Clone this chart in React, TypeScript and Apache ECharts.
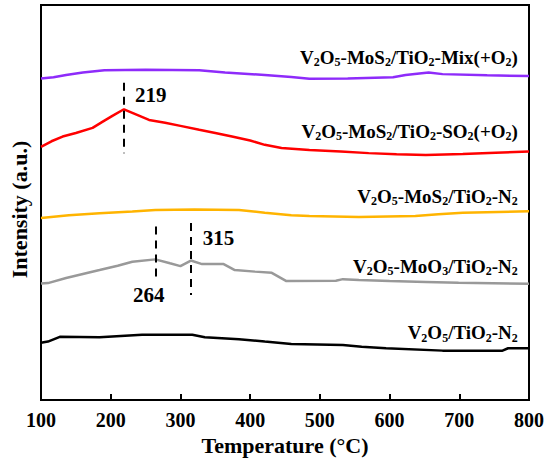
import React, { useEffect, useRef } from "react";
import * as echarts from "echarts";

// ---- data (temperature in °C, intensity in arbitrary stacked units) ----
const mixT = [100, 118, 136, 160, 191, 250, 327, 364, 421, 459, 485, 540, 605, 623, 656, 676, 740, 800];
const mixY = [81.4, 81.7, 82.3, 82.9, 83.5, 83.6, 83.5, 82.9, 82.3, 81.8, 81.3, 81.4, 81.7, 82.3, 82.9, 82.5, 82.2, 82.0];

const so2T = [100, 115, 131, 150, 174, 188, 203, 219, 231, 255, 278, 300, 327, 350, 374, 400, 421, 445, 485, 530, 570, 610, 652, 705, 752, 800];
const so2Y = [64.1, 65.5, 66.7, 67.6, 68.9, 70.4, 72.0, 73.6, 72.7, 70.9, 70.2, 69.4, 68.4, 67.6, 66.7, 65.7, 64.6, 63.8, 63.3, 62.9, 62.5, 62.2, 62.0, 62.3, 62.6, 62.9];

const mosN2T = [100, 140, 184, 231, 264, 320, 384, 421, 459, 485, 556, 637, 670, 705, 800];
const mosN2Y = [46.1, 46.8, 47.3, 47.7, 48.1, 48.2, 48.1, 47.4, 46.8, 46.6, 46.3, 46.6, 47.0, 47.4, 47.8];

const mooT = [100, 110, 136, 160, 184, 210, 231, 264, 285, 300, 315, 331, 362, 378, 407, 431, 452, 523, 533, 556, 600, 652, 699, 800];
const mooY = [29.5, 29.6, 30.9, 31.9, 32.9, 34.0, 35.0, 35.6, 34.6, 33.9, 35.3, 34.4, 34.4, 32.9, 32.5, 32.2, 30.1, 30.2, 30.6, 30.4, 30.1, 29.9, 29.7, 29.4];

const vT = [100, 110, 127, 184, 245, 317, 335, 384, 421, 459, 533, 560, 595, 676, 762, 770, 800];
const vY = [14.5, 14.8, 16.0, 15.9, 16.5, 16.5, 15.9, 15.4, 14.8, 14.2, 13.9, 13.5, 13.1, 12.5, 12.5, 13.1, 13.1];

const xTicks = [100, 200, 300, 400, 500, 600, 700, 800];
const peakTemps = [219, 264, 315];

const seriesNames = [
  "V2O5-MoS2/TiO2-Mix(+O2)",
  "V2O5-MoS2/TiO2-SO2(+O2)",
  "V2O5-MoS2/TiO2-N2",
  "V2O5-MoO3/TiO2-N2",
  "V2O5/TiO2-N2",
];
const colors = ["#8E2BFA", "#FF0000", "#FFB400", "#999999", "#000000"];

// rich-text formatted labels (subscripts as {s|..})
const richLabels = [
  "{n|V}{s|2}{n|O}{s|5}{n|-MoS}{s|2}{n|/TiO}{s|2}{n|-Mix(+O}{s|2}{n|)}",
  "{n|V}{s|2}{n|O}{s|5}{n|-MoS}{s|2}{n|/TiO}{s|2}{n|-SO}{s|2}{n|(+O}{s|2}{n|)}",
  "{n|V}{s|2}{n|O}{s|5}{n|-MoS}{s|2}{n|/TiO}{s|2}{n|-N}{s|2}",
  "{n|V}{s|2}{n|O}{s|5}{n|-MoO}{s|3}{n|/TiO}{s|2}{n|-N}{s|2}",
  "{n|V}{s|2}{n|O}{s|5}{n|/TiO}{s|2}{n|-N}{s|2}",
];

// annotation anchors (data coordinates)
const labelAnchorX = 784;
const labelAnchorY = [86.8, 68.1, 51.6, 33.9, 17.0];
const peakLineRanges = [
  [80.3, 62.5],
  [43.9, 30.4],
  [44.8, 26.6],
];
const peakTextPos = [
  [257.5, 77.1],
  [254.7, 26.6],
  [354.5, 40.9],
];

const FONT = "Liberation Serif";

export default function App() {
  const ref = useRef<HTMLDivElement>(null);

  useEffect(() => {
    if (!ref.current) return;
    const chart = echarts.init(ref.current, undefined, { renderer: "svg" });

    const xs = [mixT, so2T, mosN2T, mooT, vT];
    const ys = [mixY, so2Y, mosN2Y, mooY, vY];

    const rich = {
      n: { fontFamily: FONT, fontWeight: "bold", fontSize: 19, color: "#000", lineHeight: 22 },
      s: {
        fontFamily: FONT,
        fontWeight: "bold",
        fontSize: 12,
        color: "#000",
        lineHeight: 10,
        verticalAlign: "bottom",
      },
    };

    const series: any[] = seriesNames.map((name, i) => ({
      name,
      type: "line",
      data: xs[i].map((t, k) => [t, ys[i][k]]),
      showSymbol: false,
      symbol: "none",
      lineStyle: { color: colors[i], width: 2.5 },
      itemStyle: { color: colors[i] },
      z: 3,
      markPoint: {
        silent: true,
        symbol: "circle",
        symbolSize: 0,
        data: [{ coord: [labelAnchorX, labelAnchorY[i]] }],
        label: {
          show: true,
          position: "left",
          distance: 0,
          formatter: richLabels[i],
          rich,
        },
      },
    }));

    // peak annotation series (dashed lines + numbers)
    series.push({
      name: "peaks",
      type: "line",
      data: [],
      symbol: "none",
      markLine: {
        silent: true,
        symbol: "none",
        label: { show: false },
        lineStyle: { color: "#000", width: 2, type: [8, 6] },
        data: peakTemps.map((t, i) => [
          { coord: [t, peakLineRanges[i][0]] },
          { coord: [t, peakLineRanges[i][1]] },
        ]),
      },
      markPoint: {
        silent: true,
        symbol: "circle",
        symbolSize: 0,
        data: peakTemps.map((t, i) => ({ coord: peakTextPos[i], value: t })),
        label: {
          show: true,
          position: "inside",
          formatter: (p: any) => String(p.value),
          fontFamily: FONT,
          fontWeight: "bold",
          fontSize: 21,
          color: "#000",
        },
      },
    });

    chart.setOption({
      animation: false,
      backgroundColor: "#fff",
      textStyle: { fontFamily: FONT },
      grid: {
        left: 38,
        right: 21,
        top: 5,
        bottom: 63,
        show: true,
        borderColor: "#000",
        borderWidth: 2,
        containLabel: false,
      },
      xAxis: {
        type: "value",
        min: 100,
        max: 800,
        interval: 100,
        name: "Temperature (°C)",
        nameLocation: "middle",
        nameGap: 34,
        nameTextStyle: { fontFamily: FONT, fontWeight: "bold", fontSize: 22, color: "#000" },
        axisLine: { show: true, lineStyle: { color: "#000", width: 2 } },
        axisTick: {
          show: true,
          inside: true,
          length: 6,
          lineStyle: { color: "#000", width: 2 },
        },
        axisLabel: {
          fontFamily: FONT,
          fontWeight: "bold",
          fontSize: 20,
          color: "#000",
          margin: 10,
          formatter: (v: number) => (xTicks.includes(v) ? String(v) : ""),
        },
        splitLine: { show: false },
      },
      yAxis: {
        type: "value",
        min: 0,
        max: 100,
        name: "Intensity (a.u.)",
        nameLocation: "middle",
        nameGap: 11,
        nameTextStyle: {
          fontFamily: FONT,
          fontWeight: "bold",
          fontSize: 22,
          color: "#000",
          padding: [0, 14, 0, 0],
        },
        axisLine: { show: true, lineStyle: { color: "#000", width: 2 } },
        axisTick: { show: false },
        axisLabel: { show: false },
        splitLine: { show: false },
      },
      series,
    });

    return () => chart.dispose();
  }, []);

  return (
    <div
      ref={ref}
      style={{ position: "fixed", left: 0, top: 0, width: 550, height: 463, background: "#fff" }}
    />
  );
}
